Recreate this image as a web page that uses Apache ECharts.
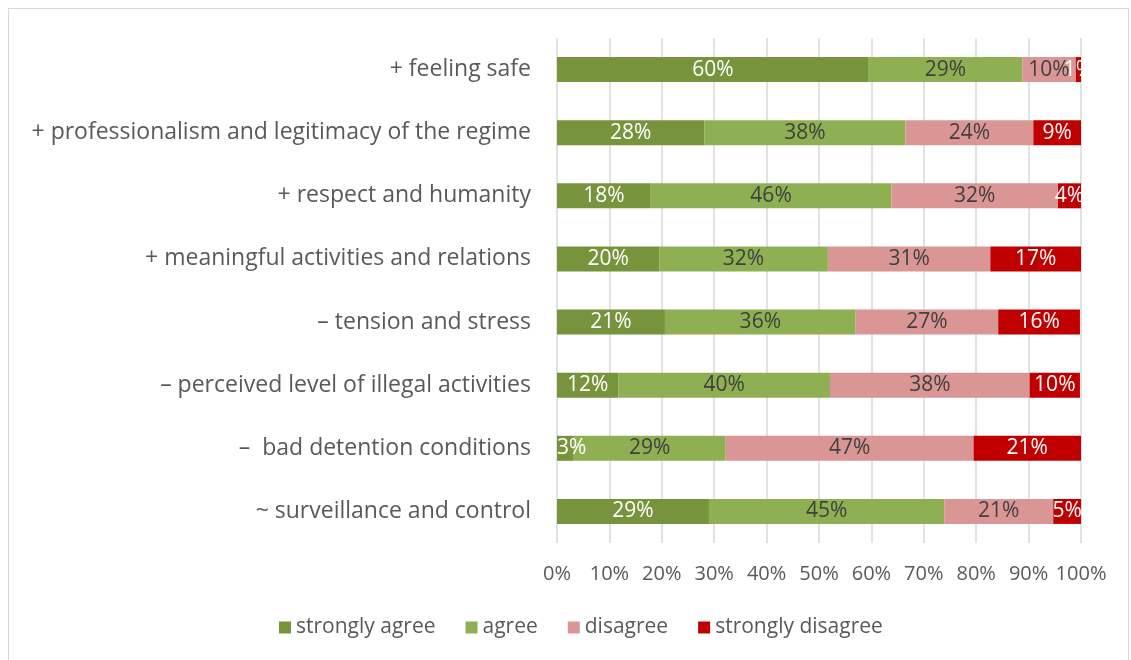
<!DOCTYPE html>
<html>
<head>
<meta charset="utf-8">
<script src="https://cdn.jsdelivr.net/npm/echarts@6/dist/echarts.min.js"></script>
<style>
    html, body { margin: 0; padding: 0; background: #fff; }
    #frame { position: absolute; left: 8px; top: 8px; width: 1121px; height: 660px; border: 1px solid #d9d9d9; box-sizing: border-box; }
    #chart { position: absolute; left: 0; top: 0; width: 1131px; height: 660px; }
</style>
</head>
<body>
<div id="frame"></div>
<div id="chart"></div>
<script>
const categories = [
    "+ feeling safe",
    "+ professionalism and legitimacy of the regime",
    "+ respect and humanity",
    "+ meaningful activities and relations",
    "\u2013 tension and stress",
    "\u2013 perceived level of illegal activities",
    "\u2013  bad detention conditions",
    "~ surveillance and control"
];
const stronglyAgree = [59.5, 28.1, 17.9, 19.5, 20.6, 11.7, 3.2, 29.0];
const agree = [29.3, 38.4, 45.9, 32.2, 36.4, 40.4, 29.0, 44.9];
const disagree = [10.2, 24.4, 31.8, 31.0, 27.2, 38.1, 47.3, 20.8];
const stronglyDisagree = [1.0, 9.1, 4.4, 17.3, 15.6, 9.6, 20.5, 5.3];
const xTicks = [0, 10, 20, 30, 40, 50, 60, 70, 80, 90, 100];

const font = "'Open Sans', sans-serif";

const makeSeries = (name, data, color, labelColor, leftSmall) => ({
    name: name,
    type: "bar",
    stack: "total",
    // a tiny first segment gets its label pushed to the bar start, like the original
    data: data.map(v => (leftSmall && v < 5) ? { value: v, label: { position: "insideLeft", distance: 0 } } : v),
    barWidth: 25,
    itemStyle: { color: color },
    label: {
        show: true,
        position: "inside",
        color: labelColor,
        fontFamily: font,
        fontSize: 21,
        overflow: "none",
        formatter: p => Math.round(p.value) + "%"
    }
});

const myChart = echarts.init(document.getElementById("chart"));
myChart.setOption({
    animation: false,
    textStyle: { fontFamily: font },
    grid: {
        left: 557,
        right: 50,
        top: 38,
        bottom: 117
    },
    xAxis: {
        type: "value",
        min: xTicks[0],
        max: xTicks[xTicks.length - 1],
        interval: 10,
        axisLine: { show: false },
        axisTick: { show: false },
        splitLine: { lineStyle: { color: "#d9d9d9", width: 1.5 } },
        axisLabel: {
            color: "#595959",
            fontSize: 20,
            margin: 21,
            formatter: v => v + "%"
        }
    },
    yAxis: {
        type: "category",
        data: categories,
        inverse: true,
        axisLine: { show: false },
        axisTick: { show: false },
        axisLabel: {
            color: "#595959",
            fontSize: 23,
            margin: 26
        }
    },
    legend: {
        top: 612,
        left: 274,
        itemWidth: 12,
        itemHeight: 12,
        itemGap: 30,
        icon: "rect",
        textStyle: { color: "#595959", fontSize: 21 }
    },
    series: [
        makeSeries("strongly agree", stronglyAgree, "#77933C", "#ffffff", true),
        makeSeries("agree", agree, "#8FB052", "#404040"),
        makeSeries("disagree", disagree, "#DA9694", "#404040"),
        makeSeries("strongly disagree", stronglyDisagree, "#C00000", "#ffffff")
    ]
});
</script>
</body>
</html>
